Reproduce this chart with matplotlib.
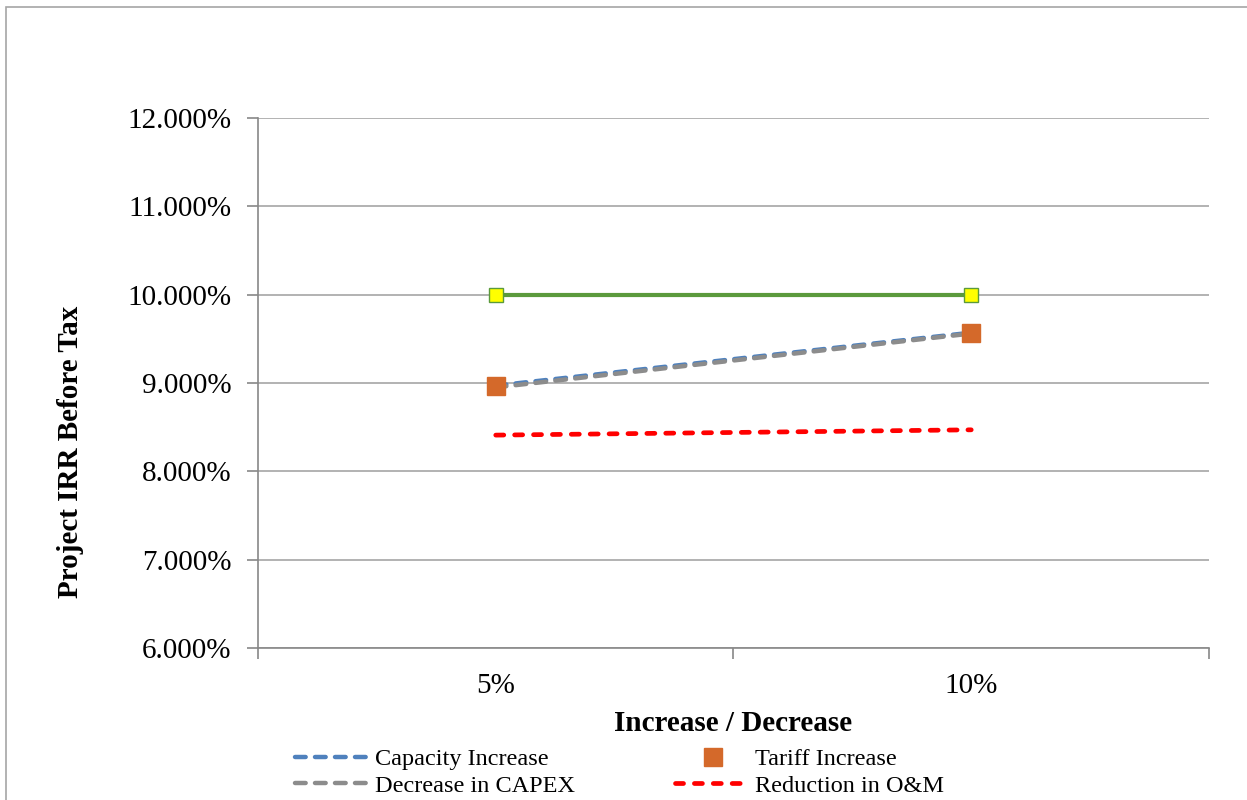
import matplotlib.pyplot as plt
import matplotlib.patches as patches
from matplotlib.ticker import FuncFormatter

# sensitivity of project IRR (before tax)
categories = ['5%', '10%']
base_case = [10.0, 10.0]
capacity_increase = [8.97, 9.57]
tariff_increase = [8.97, 9.57]
decrease_capex = [8.95, 9.56]
reduction_om = [8.41, 8.47]

plt.rcParams['font.family'] = ['Liberation Serif', 'DejaVu Serif']

fig = plt.figure(figsize=(12.47, 8), dpi=100)
ax = fig.add_axes([0.2069, 0.19, 0.7626, 0.6625])

# chart area border (runs off the right and bottom edge)
fig.patches.append(patches.Rectangle((6 / 1247, -0.1), 1.2, 0.1 + 793 / 800,
                                     transform=fig.transFigure, fill=False,
                                     edgecolor='#a6a6a6', linewidth=1.2))

x = list(range(len(categories)))
dash = (0, (2.4, 2.1))

ax.plot(x, base_case, color='#5b9a3c', linewidth=3, marker='s', markersize=10,
        markerfacecolor='#ffff00', markeredgecolor='#5b9a3c', markeredgewidth=1,
        zorder=3)
ax.plot(x, capacity_increase, color='#4f81bd', linewidth=3.2, linestyle=dash,
        dash_capstyle='round', label='Capacity Increase', zorder=4)
ax.plot(x, tariff_increase, linestyle='none', marker='s', markersize=13,
        color='#d4692a', label='Tariff Increase', zorder=6)
ax.plot(x, decrease_capex, color='#8c8c8c', linewidth=3.2, linestyle=dash,
        dash_capstyle='round', label='Decrease in CAPEX', zorder=5)
ax.plot(x, reduction_om, color='#ff0000', linewidth=3.4, linestyle=(0, (1.7, 2.3)),
        dash_capstyle='round', label='Reduction in O&M', zorder=4)

ax.set_xlim(-0.5, 1.5)
ax.set_ylim(6, 12)
ax.set_yticks([6, 7, 8, 9, 10, 11, 12])
ax.yaxis.set_major_formatter(FuncFormatter(lambda v, p: f'{v:.3f}%'))
ax.set_xticks(x)
ax.set_xticklabels(categories)
ax.set_xticks([-0.5, 0.5, 1.5], minor=True)

ax.grid(axis='y', color='#a6a6a6', linewidth=1.2, zorder=0)
ax.set_axisbelow(True)
for side in ['top', 'right']:
    ax.spines[side].set_visible(False)
for side in ['left', 'bottom']:
    ax.spines[side].set_color('#888888')
    ax.spines[side].set_linewidth(1.2)

ax.tick_params(axis='y', which='major', length=8, color='#888888', width=1.2,
               labelsize=21, pad=11)
ax.tick_params(axis='x', which='major', length=0, labelsize=21, pad=18)
ax.tick_params(axis='x', which='minor', length=8, color='#888888', width=1.2)

ax.set_ylabel('Project IRR Before Tax', fontsize=21, fontweight='bold')
ax.yaxis.set_label_coords(-0.183, 0.37)
ax.set_xlabel('Increase / Decrease', fontsize=21, fontweight='bold', labelpad=8)

handles, labels = ax.get_legend_handles_labels()
order = [0, 2, 1, 3]
fig.legend([handles[i] for i in order], [labels[i] for i in order],
           loc='upper left', bbox_to_anchor=(295 / 1247, 1 - 748 / 800),
           ncol=2, frameon=False, fontsize=17.5, handlelength=3.1,
           handletextpad=0.2, columnspacing=4.1, labelspacing=0.2,
           numpoints=1, borderpad=0, borderaxespad=0)

fig.savefig('out.png', dpi=100, facecolor='white')
